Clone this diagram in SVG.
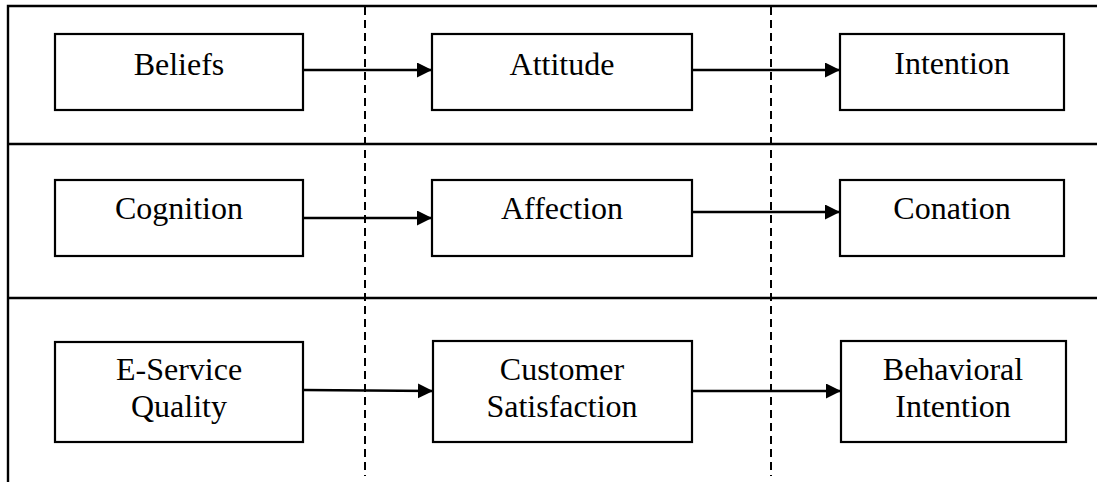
<svg xmlns="http://www.w3.org/2000/svg" width="1097" height="482" viewBox="0 0 1097 482">
<style>
.frame{stroke:#000;stroke-width:2.4;fill:none}
.dash{stroke:#000;stroke-width:2;stroke-dasharray:8,5;fill:none}
.box{fill:#fff;stroke:#000;stroke-width:2.2}
.lbl{font-family:"Liberation Serif","Times New Roman",serif;font-size:32px;fill:#000;text-anchor:middle}
.edge{stroke:#000;stroke-width:2.4;fill:none;marker-end:url(#arr)}
</style>
<defs>
<marker id="arr" markerUnits="userSpaceOnUse" markerWidth="16" markerHeight="16" refX="15" refY="7.5" orient="auto">
<path d="M0,0 L15,7.5 L0,15 Z" fill="#000"/>
</marker>
</defs>
<rect width="1097" height="482" fill="#fff"/>
<g id="frame">
<path class="frame" d="M8,482 V6 H1097"/>
<path class="frame" d="M8,144 H1097"/>
<path class="frame" d="M8,298 H1097"/>
<path class="dash" d="M365,7 V476"/>
<path class="dash" d="M771,7 V476"/>
</g>
<g id="connectors">
<path class="edge" d="M303,70 H432"/>
<path class="edge" d="M692,70 H840"/>
<path class="edge" d="M303,218 H432"/>
<path class="edge" d="M692,212 H840"/>
<path class="edge" d="M303,390 L433,391"/>
<path class="edge" d="M692,391 H841"/>
</g>
<g id="beliefs"><rect class="box" x="55" y="34" width="248" height="76"/><text class="lbl" x="179" y="75">Beliefs</text></g>
<g id="attitude"><rect class="box" x="432" y="34" width="260" height="76"/><text class="lbl" x="562" y="75">Attitude</text></g>
<g id="intention"><rect class="box" x="840" y="34" width="224" height="76"/><text class="lbl" x="952" y="74">Intention</text></g>
<g id="cognition"><rect class="box" x="55" y="180" width="248" height="76"/><text class="lbl" x="179" y="219">Cognition</text></g>
<g id="affection"><rect class="box" x="432" y="180" width="260" height="76"/><text class="lbl" x="562" y="219">Affection</text></g>
<g id="conation"><rect class="box" x="840" y="180" width="224" height="76"/><text class="lbl" x="952" y="219">Conation</text></g>
<g id="eservice"><rect class="box" x="55" y="342" width="248" height="100"/><text class="lbl" x="179" y="380">E-Service</text><text class="lbl" x="179" y="417">Quality</text></g>
<g id="satisfaction"><rect class="box" x="433" y="341" width="259" height="101"/><text class="lbl" x="562" y="380">Customer</text><text class="lbl" x="562" y="417">Satisfaction</text></g>
<g id="behavioral"><rect class="box" x="841" y="341" width="225" height="101"/><text class="lbl" x="953" y="380">Behavioral</text><text class="lbl" x="953" y="417">Intention</text></g>
</svg>
